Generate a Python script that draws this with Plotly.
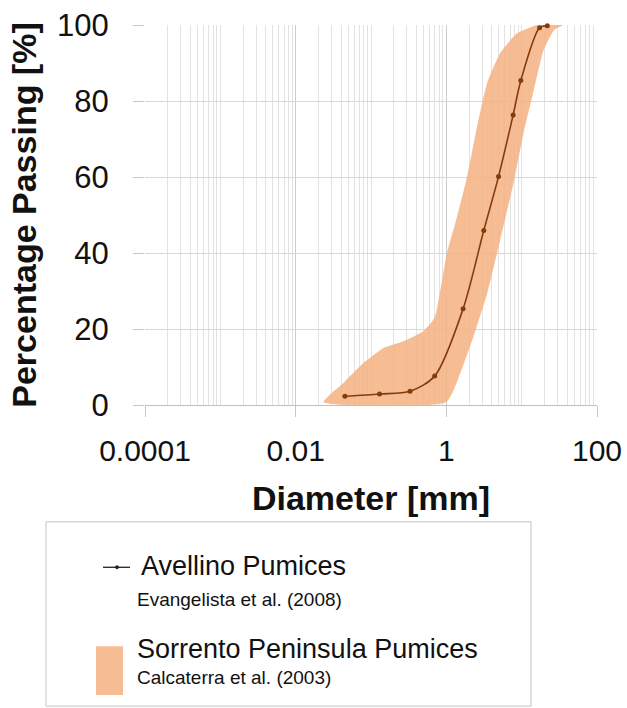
import plotly.graph_objects as go

# ---------------- data ----------------
avellino_d = [0.045, 0.13, 0.33, 0.70, 1.67, 3.14, 4.93, 7.7, 9.75, 17.3, 21.9]
avellino_p = [2.3, 2.9, 3.6, 7.6, 25.3, 45.9, 60.1, 76.3, 85.4, 99.3, 99.8]

# Sorrento Peninsula band: fine (upper/left) and coarse (lower/right) limits
sorrento_fine_d = [0.0235, 0.043, 0.080, 0.147, 0.27, 0.50, 0.70, 0.83, 1.02, 1.39, 1.88, 2.56, 3.48, 5.2, 8.7, 16, 36]
sorrento_fine_p = [0.8, 5.8, 11.1, 15.0, 16.8, 19.5, 23.0, 30.0, 40.0, 49.6, 60.0, 73.3, 84.7, 92.6, 97.8, 100, 100]
sorrento_coarse_d = [0.0235, 1.0, 1.54, 2.3, 3.5, 5.2, 7.8, 10.6, 14.5, 19.6, 27, 36]
sorrento_coarse_p = [0.8, 0.8, 8.5, 18.1, 29.5, 43.5, 58.4, 71.5, 82.9, 93.4, 98.7, 100]

x_tick_vals = [0.0001, 0.01, 1, 100]
x_tick_text = ["0.0001", "0.01", "1", "100"]
y_tick_vals = [0, 20, 40, 60, 80, 100]

series_names = ["Avellino Pumices", "Sorrento Peninsula Pumices"]
series_refs = ["Evangelista et al. (2008)", "Calcaterra et al. (2003)"]

# ---------------- styling ----------------
FONT = "Liberation Sans, Arial, sans-serif"
BAND = "rgba(244,177,131,0.85)"
BROWN = "#843C0C"

W, H = 627, 708
ML, MR, MT, MB = 145, 30, 25, 302.5
PW, PH = W - ML - MR, H - MT - MB


def px(xp):
    return (xp - ML) / PW


def py(yp):
    return (H - MB - yp) / PH


band_x = sorrento_fine_d + sorrento_coarse_d[::-1]
band_y = sorrento_fine_p + sorrento_coarse_p[::-1]

fig = go.Figure()
fig.add_trace(go.Scatter(
    x=band_x, y=band_y, mode="lines", fill="toself", fillcolor=BAND,
    line=dict(width=0, color=BAND, shape="spline", smoothing=0.5),
    name=series_names[1], showlegend=False, hoverinfo="skip"))
fig.add_trace(go.Scatter(
    x=avellino_d, y=avellino_p, mode="lines+markers",
    line=dict(color=BROWN, width=1.6, shape="spline", smoothing=0.8),
    marker=dict(color=BROWN, size=5),
    name=series_names[0], showlegend=False, cliponaxis=False))

minor_vals = [m * 10.0 ** k for k in range(-4, 2) for m in range(1, 10) if 10.0 ** k * m not in x_tick_vals]

fig.update_xaxes(
    type="log", range=[-4, 2], tickmode="array", tickvals=x_tick_vals, ticktext=x_tick_text,
    showgrid=True, gridcolor="#cdcdcd", gridwidth=1,
    minor=dict(tickmode="array", tickvals=minor_vals, showgrid=True, gridcolor="#e2e2e2", gridwidth=1, ticks=""),
    ticks="outside", ticklen=11, tickcolor="#c8c8c8", ticklabelstandoff=8,
    showline=True, linecolor="#c0c0c0", linewidth=1, zeroline=False,
    tickfont=dict(family=FONT, size=30, color="#111"),
    title=dict(text="Diameter [mm]", font=dict(family=FONT, size=34, color="#111", weight="bold"), standoff=20),
    automargin=False)
fig.update_yaxes(
    range=[0, 100], tickmode="array", tickvals=y_tick_vals,
    showgrid=True, gridcolor="#d8d8d8", gridwidth=1,
    ticks="outside", ticklen=11, tickcolor="#c8c8c8", ticklabelstandoff=18,
    showline=False, zeroline=False,
    tickfont=dict(family=FONT, size=31, color="#111"),
    title=dict(text="Percentage Passing [%]", font=dict(family=FONT, size=34, color="#111", weight="bold"), standoff=10),
    automargin=False)

# ---------------- legend box (drawn below the plot) ----------------
shapes = [
    dict(type="rect", xref="paper", yref="paper", x0=px(46), x1=px(531), y0=py(522.5), y1=py(707),
         line=dict(color="#c4c4c4", width=1), fillcolor="rgba(0,0,0,0)"),
    dict(type="line", xref="paper", yref="paper", x0=px(103), x1=px(130), y0=py(568), y1=py(568),
         line=dict(color="#222", width=1.3)),
    dict(type="circle", xref="paper", yref="paper", x0=px(115.5), x1=px(118.5), y0=py(569.5), y1=py(566.5),
         line=dict(color="#222", width=1), fillcolor="#222"),
    dict(type="rect", xref="paper", yref="paper", x0=px(96), x1=px(123), y0=py(647), y1=py(696),
         line=dict(width=0), fillcolor=BAND),
]
annotations = [
    dict(text=series_names[0], x=px(139), y=py(567), xref="paper", yref="paper", xanchor="left", yanchor="middle",
         showarrow=False, font=dict(family=FONT, size=27, color="#111")),
    dict(text=series_refs[0], x=px(135), y=py(600), xref="paper", yref="paper", xanchor="left", yanchor="middle",
         showarrow=False, font=dict(family=FONT, size=19, color="#111")),
    dict(text=series_names[1], x=px(135), y=py(650), xref="paper", yref="paper", xanchor="left", yanchor="middle",
         showarrow=False, font=dict(family=FONT, size=27, color="#111")),
    dict(text=series_refs[1], x=px(135), y=py(678), xref="paper", yref="paper", xanchor="left", yanchor="middle",
         showarrow=False, font=dict(family=FONT, size=19, color="#111")),
]

fig.update_layout(
    width=W, height=H, margin=dict(l=ML, r=MR, t=MT, b=MB),
    paper_bgcolor="white", plot_bgcolor="white", showlegend=False,
    shapes=shapes, annotations=annotations,
    font=dict(family=FONT))

fig.write_html("out.html")
